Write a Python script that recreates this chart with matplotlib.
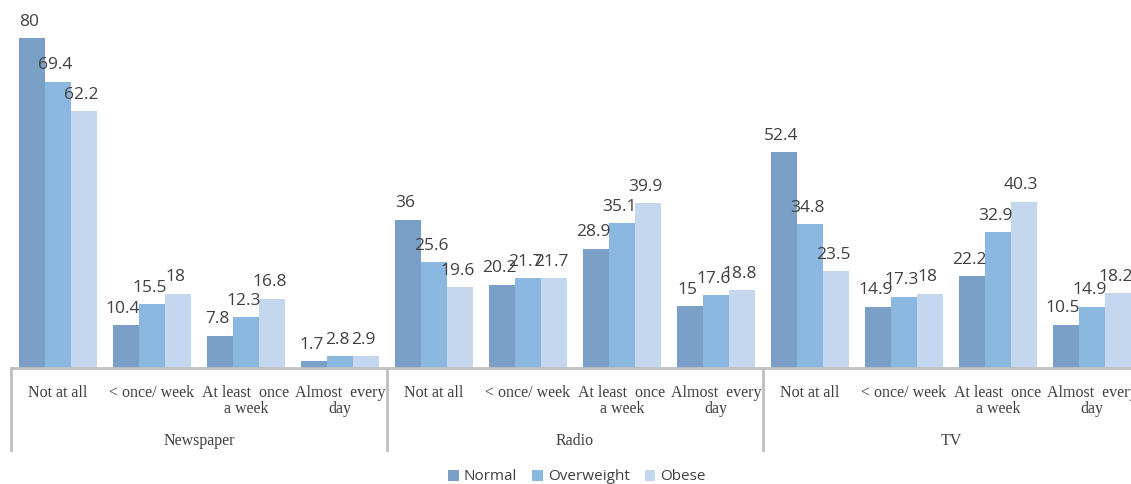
import numpy as np
import matplotlib
matplotlib.use('Agg')
import matplotlib.pyplot as plt

# data
media = ['Newspaper', 'Radio', 'TV']
freq = ['Not at all', '< once/ week', 'At least  once\na week', 'Almost  every\nday']
series = ['Normal', 'Overweight', 'Obese']
normal = [80, 10.4, 7.8, 1.7, 36, 20.2, 28.9, 15, 52.4, 14.9, 22.2, 10.5]
overweight = [69.4, 15.5, 12.3, 2.8, 25.6, 21.7, 35.1, 17.6, 34.8, 17.3, 32.9, 14.9]
obese = [62.2, 18, 16.8, 2.9, 19.6, 21.7, 39.9, 18.8, 23.5, 18, 40.3, 18.2]
colors = ['#7ba0c8', '#8ab8e1', '#c4d7ee']

W, H = 1131, 484
fig = plt.figure(figsize=(W / 100, H / 100), dpi=100)
px = 4.125  # pixels per unit
ymax = 88
ax = fig.add_axes([11 / W, (H - 368) / H, 12 * 94 / W, ymax * px / H])

x = np.arange(12)
bw = 0.277
txt = '#404040'
for i, (vals, c, name) in enumerate(zip([normal, overweight, obese], colors, series)):
    pos = x + (i - 1) * bw
    bars = ax.bar(pos, vals, bw, color=c, label=name, zorder=2)
    for b, v in zip(bars, vals):
        ax.annotate('%g' % v, (b.get_x() + b.get_width() / 2 - 0.03, v),
                    xytext=(0, 6), textcoords='offset points', ha='center', va='bottom',
                    fontsize=12.5, color=txt, family='Open Sans')

ax.set_xlim(-0.5, 11.5)
ax.set_ylim(0, ymax)
for s in ['top', 'right', 'left']:
    ax.spines[s].set_visible(False)
ax.spines['bottom'].set_color('#bfbfbf')
ax.spines['bottom'].set_linewidth(2)
ax.set_yticks([])
ax.set_xticks([])

ah = ymax * px
tr = ax.get_xaxis_transform()
for xs in [-0.5, 3.5, 7.5, 11.5]:
    ax.plot([xs, xs], [0, -(450 - 368) / ah], color='#bfbfbf', lw=2,
            transform=tr, clip_on=False)

for k in range(12):
    ax.text(k, -(385 - 368) / ah, freq[k % 4], transform=tr, ha='center', va='top',
            fontsize=11.5, color=txt, family='Liberation Serif', linespacing=1.0)
for g, m in enumerate(media):
    ax.text(4 * g + 1.5, -(441 - 368) / ah, m, transform=tr, ha='center', va='center',
            fontsize=11.5, color=txt, family='Liberation Serif')

fig.legend(loc='center', bbox_to_anchor=(577 / W, 1 - 477 / H), ncol=3, frameon=False,
           handlelength=0.7, handleheight=0.7, handletextpad=0.3, columnspacing=1.0,
           prop={'family': 'Open Sans', 'size': 11}, labelcolor=txt)

fig.savefig('out.png', dpi=100)
